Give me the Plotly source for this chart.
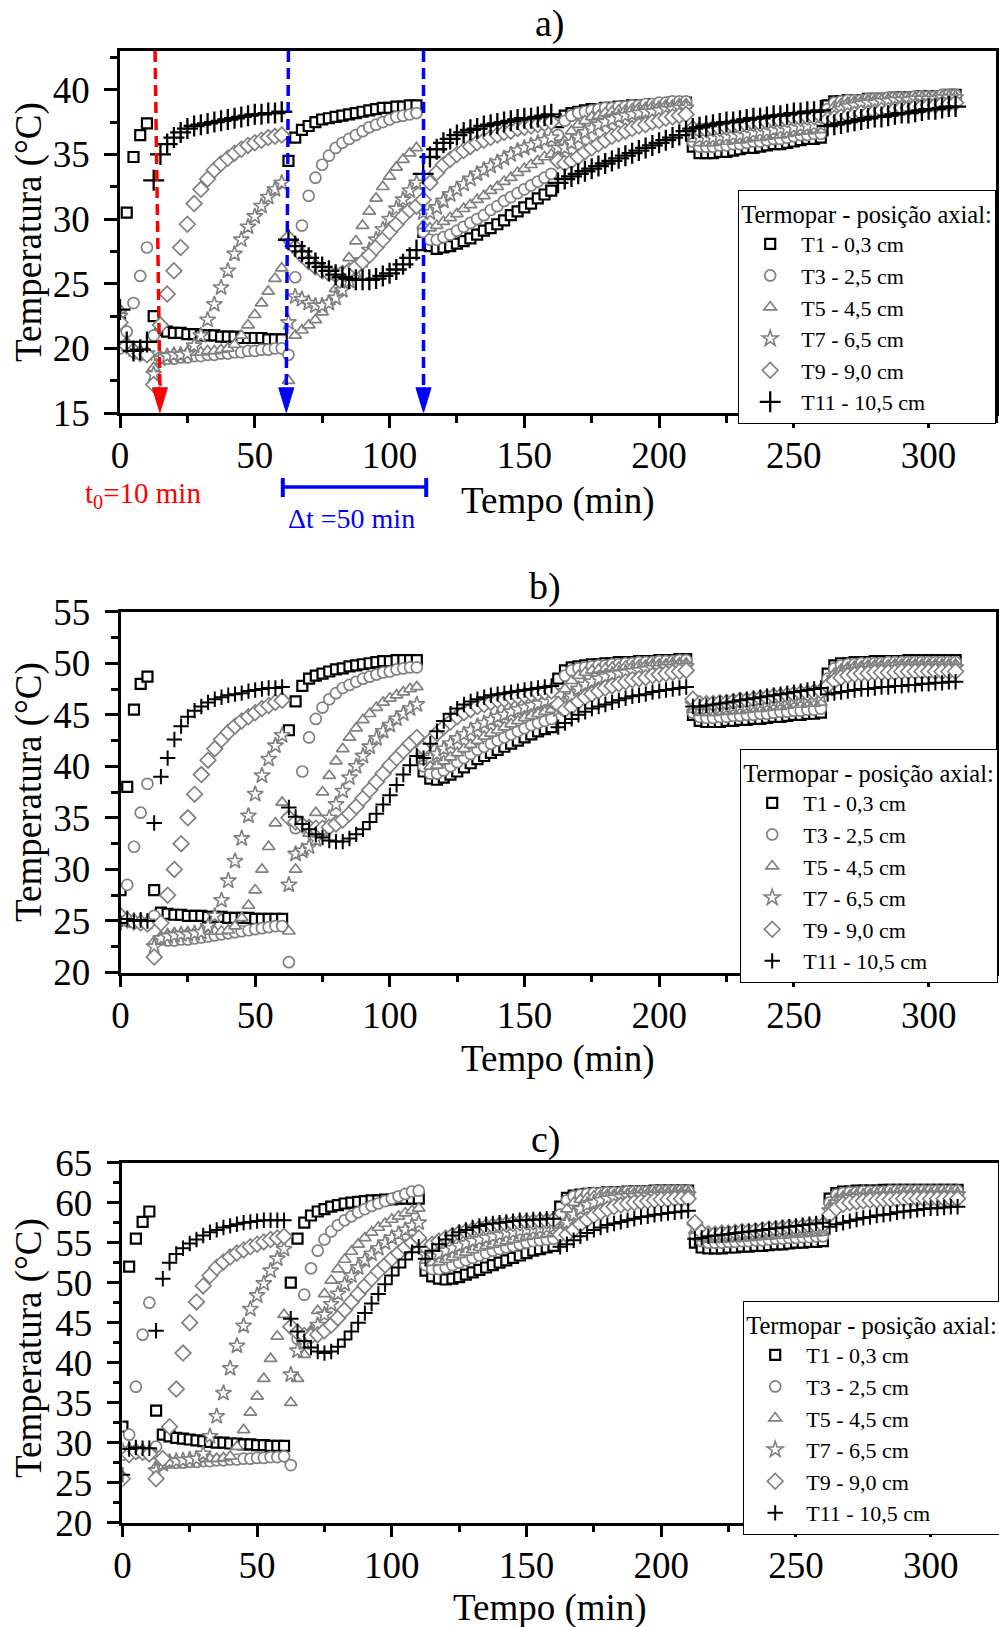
import plotly.graph_objects as go

FONT = "Liberation Serif"

# sampling times (min)
TIME = [0,2.5,5,7.5,10,12.5,15,17.5,20,22.5,25,27.5,30,32.5,35,37.5,40,42.5,45,47.5,
        50,52.5,55,57.5,60,62.5,65,67.5,70,72.5,75,77.5,80,82.5,85,87.5,90,92.5,95,97.5,
        100,102.5,105,107.5,110,112.5,115,117.5,120,122.5,125,127.5,130,132.5,135,137.5,140,142.5,145,147.5,
        150,152.5,155,157.5,160,162.5,165,167.5,170,172.5,175,177.5,180,182.5,185,187.5,190,192.5,195,197.5,
        200,202.5,205,207.5,210,212.5,215,217.5,220,222.5,225,227.5,230,232.5,235,237.5,240,242.5,245,247.5,
        250,252.5,255,257.5,260,262.5,265,267.5,270,272.5,275,277.5,280,282.5,285,287.5,290,292.5,295,297.5,
        300,302.5,305,307.5,310]

LABELS = ["T1 - 0,3 cm", "T3 - 2,5 cm", "T5 - 4,5 cm", "T7 - 6,5 cm", "T9 - 9,0 cm", "T11 - 10,5 cm"]
LEGEND_TITLE = "Termopar - posição axial:"

# ---------------- panel a ----------------
a_T1 = [22.0,30.5,34.8,36.5,
 37.4,22.5,21.4,21.3,21.2,21.2,21.1,21.1,21.0,21.0,21.0,20.9,20.9,20.9,20.8,20.8,20.8,20.8,20.7,20.7,
 20.7,34.5,36.3,36.9,37.2,37.5,37.7,37.8,37.9,38.0,38.1,38.2,38.3,38.4,38.5,38.6,38.6,38.7,38.7,38.8,
 38.8,29.0,27.9,27.7,27.8,27.9,28.1,28.3,28.5,28.8,29.1,29.3,29.6,29.9,30.3,30.6,30.9,31.2,31.6,31.9,
 32.2,37.5,38.0,38.2,38.3,38.4,38.5,38.5,38.6,38.6,38.7,38.7,38.8,38.8,38.8,38.9,38.9,38.9,39.0,39.0,
 39.0,35.6,35.1,35.1,35.1,35.2,35.2,35.3,35.4,35.5,35.5,35.6,35.7,35.8,35.8,35.9,36.0,36.1,36.2,36.2,
 36.3,38.8,39.1,39.1,39.2,39.2,39.2,39.3,39.3,39.3,39.3,39.4,39.4,39.4,39.4,39.5,39.5,39.5,39.5,39.6,39.6]
a_T3 = [20.0,21.3,23.5,25.6,
 27.8,21.0,19.3,19.2,19.2,19.3,19.3,19.4,19.4,19.5,19.5,19.6,19.6,19.7,19.7,19.8,19.8,19.9,19.9,20.0,
 20.0,19.5,25.5,29.5,31.8,33.2,34.2,34.9,35.5,35.9,36.2,36.5,36.8,37.1,37.3,37.5,37.7,37.9,38.0,38.1,
 38.2,29.0,28.4,28.4,28.6,28.8,29.1,29.4,29.7,30.0,30.3,30.7,31.0,31.4,31.7,32.0,32.3,32.6,32.9,33.2,
 33.5,36.5,37.6,38.0,38.2,38.3,38.4,38.5,38.6,38.6,38.7,38.7,38.8,38.8,38.9,38.9,39.0,39.0,39.1,39.1,
 39.1,36.0,35.6,35.6,35.6,35.7,35.7,35.8,35.8,35.9,36.0,36.0,36.1,36.2,36.2,36.3,36.4,36.5,36.5,36.6,
 36.6,38.5,39.0,39.1,39.2,39.2,39.2,39.3,39.3,39.3,39.4,39.4,39.4,39.4,39.5,39.5,39.5,39.5,39.6,39.6,39.6]
a_T5 = [23.0,20.5,20.0,19.8,
 19.7,18.5,19.3,19.5,19.6,19.6,19.7,19.7,19.7,19.8,19.8,19.9,20.0,20.3,21.0,21.8,22.6,23.5,24.4,25.4,
 26.2,17.5,21.0,21.4,21.8,22.2,22.8,23.6,24.6,25.8,27.0,28.3,29.5,30.6,31.6,32.5,33.3,34.0,34.6,35.1,
 35.5,29.5,29.3,29.5,29.8,30.1,30.4,30.8,31.1,31.5,31.8,32.2,32.5,32.9,33.2,33.6,33.9,34.2,34.5,34.8,
 35.0,35.0,36.0,36.8,37.3,37.6,37.9,38.0,38.2,38.3,38.4,38.4,38.5,38.6,38.6,38.7,38.7,38.8,38.8,38.9,
 38.9,36.2,35.9,35.9,35.9,36.0,36.0,36.1,36.1,36.2,36.3,36.3,36.4,36.5,36.5,36.6,36.7,36.8,36.8,36.9,
 36.9,38.0,38.7,38.9,39.0,39.1,39.1,39.2,39.2,39.2,39.3,39.3,39.3,39.3,39.4,39.4,39.4,39.4,39.5,39.5,39.5]
a_T7 = [22.5,20.3,19.9,19.7,
 19.6,18.0,19.2,19.4,19.5,19.5,19.6,20.2,21.0,22.2,23.4,24.7,26.0,27.3,28.4,29.4,30.2,31.0,31.7,32.3,
 32.8,22.0,24.0,23.8,23.5,23.3,23.3,23.5,23.9,24.5,25.2,26.0,26.8,27.6,28.4,29.2,30.0,30.8,31.5,32.2,
 32.8,30.5,30.5,30.9,31.4,31.9,32.3,32.7,33.1,33.5,33.8,34.1,34.4,34.7,35.0,35.3,35.5,35.7,35.9,36.1,
 36.3,35.5,35.5,35.9,36.3,36.7,37.0,37.3,37.5,37.7,37.9,38.0,38.1,38.2,38.3,38.3,38.4,38.5,38.5,38.6,
 38.6,36.6,36.3,36.3,36.3,36.4,36.4,36.5,36.5,36.6,36.7,36.8,36.8,36.9,37.0,37.0,37.1,37.2,37.2,37.3,
 37.3,37.9,38.3,38.5,38.7,38.8,38.9,39.0,39.0,39.1,39.1,39.2,39.2,39.2,39.3,39.3,39.3,39.3,39.4,39.4,39.4]
a_T9 = [22.0,20.2,19.8,19.6,
 19.5,17.2,21.8,24.2,26.0,27.8,29.6,31.2,32.3,33.1,33.8,34.3,34.7,35.1,35.4,35.7,35.9,36.1,36.3,36.4,
 36.5,28.5,27.8,27.2,26.7,26.3,26.0,25.8,25.7,25.8,26.0,26.3,26.7,27.2,27.8,28.4,29.0,29.6,30.2,30.7,
 31.0,31.5,32.8,33.6,34.2,34.6,35.0,35.3,35.6,35.9,36.1,36.3,36.5,36.7,36.8,37.0,37.1,37.2,37.3,37.4,
 37.5,34.5,34.3,34.5,34.8,35.2,35.5,35.8,36.1,36.4,36.6,36.8,37.0,37.2,37.3,37.5,37.6,37.8,37.9,38.0,
 38.1,37.0,36.9,36.9,37.0,37.0,37.1,37.2,37.2,37.3,37.4,37.4,37.5,37.6,37.6,37.7,37.8,37.8,37.9,37.9,
 38.0,37.7,37.8,37.9,38.0,38.1,38.2,38.2,38.3,38.4,38.4,38.5,38.6,38.6,38.7,38.7,38.8,38.8,38.9,38.9,39.0]
a_T11 = [23.0,20.5,19.8,19.9,
 20.5,33.0,35.0,35.8,36.3,36.7,37.0,37.2,37.3,37.4,37.5,37.6,37.7,37.8,37.9,38.0,38.1,38.1,38.2,38.2,
 38.3,28.4,27.9,27.5,27.0,26.6,26.3,26.0,25.7,25.5,25.4,25.3,25.3,25.3,25.4,25.6,25.8,26.1,26.5,27.0,
 27.6,33.5,34.8,35.4,35.9,36.2,36.5,36.7,36.9,37.0,37.2,37.3,37.4,37.5,37.6,37.7,37.8,37.8,37.9,38.0,
 38.1,32.8,33.1,33.3,33.5,33.7,33.9,34.1,34.3,34.5,34.7,34.9,35.1,35.3,35.5,35.7,35.9,36.1,36.3,36.5,
 36.8,37.0,37.1,37.2,37.3,37.4,37.5,37.5,37.6,37.7,37.8,37.8,37.9,38.0,38.0,38.1,38.2,38.2,38.3,38.3,
 38.4,37.2,37.3,37.4,37.5,37.6,37.7,37.8,37.9,37.9,38.0,38.1,38.2,38.2,38.3,38.4,38.5,38.5,38.6,38.7,38.7]

# ---------------- panel b ----------------
b_T1 = [28.0,38.0,45.5,48.0,
 48.7,28.0,25.8,25.7,25.6,25.6,25.5,25.5,25.5,25.4,25.4,25.4,25.3,25.3,25.3,25.3,25.2,25.2,25.2,25.2,
 25.2,43.5,46.3,47.8,48.5,48.8,49.0,49.2,49.4,49.5,49.7,49.8,49.9,50.0,50.1,50.2,50.2,50.3,50.3,50.3,
 50.3,39.5,38.8,38.7,38.9,39.2,39.5,39.9,40.3,40.7,41.0,41.3,41.6,41.9,42.2,42.5,42.8,43.1,43.4,43.6,
 43.8,48.5,49.3,49.6,49.7,49.8,49.9,49.9,50.0,50.0,50.1,50.1,50.1,50.2,50.2,50.2,50.3,50.3,50.3,50.4,
 50.4,45.0,44.4,44.3,44.3,44.3,44.4,44.4,44.5,44.5,44.6,44.6,44.7,44.8,44.8,44.9,45.0,45.0,45.1,45.1,
 45.2,49.0,49.8,50.0,50.0,50.1,50.1,50.1,50.2,50.2,50.2,50.2,50.2,50.3,50.3,50.3,50.3,50.3,50.3,50.3,50.3]
b_T3 = [25.0,28.5,32.2,35.5,
 38.3,25.5,23.2,23.1,23.1,23.2,23.2,23.3,23.4,23.5,23.6,23.7,23.8,23.9,24.0,24.1,24.2,24.3,24.4,24.5,
 24.5,21.0,34.0,39.5,42.8,44.6,45.7,46.5,47.1,47.6,47.9,48.2,48.5,48.7,48.9,49.1,49.2,49.4,49.5,49.6,
 49.6,40.0,39.3,39.3,39.6,40.0,40.4,40.8,41.2,41.6,41.9,42.2,42.5,42.8,43.1,43.4,43.7,44.0,44.2,44.4,
 44.6,47.0,48.8,49.3,49.5,49.6,49.7,49.8,49.8,49.9,49.9,50.0,50.0,50.1,50.1,50.1,50.2,50.2,50.2,50.3,
 50.3,45.2,44.8,44.7,44.7,44.8,44.8,44.9,44.9,45.0,45.0,45.1,45.1,45.2,45.3,45.3,45.4,45.4,45.5,45.5,
 45.6,48.5,49.5,49.8,49.9,49.9,50.0,50.0,50.0,50.0,50.1,50.1,50.1,50.1,50.1,50.1,50.1,50.1,50.1,50.1,50.1]
b_T5 = [25.5,25.2,25.0,25.0,
 24.9,23.0,23.5,23.7,23.8,23.8,23.9,23.9,24.0,24.0,24.0,24.0,24.1,24.5,25.3,26.5,28.0,30.0,32.2,34.5,
 36.5,24.0,30.0,31.7,33.5,35.5,37.5,39.1,40.5,41.7,42.8,43.7,44.5,45.1,45.7,46.2,46.6,46.9,47.2,47.5,
 47.7,40.5,40.0,40.1,40.5,40.9,41.3,41.7,42.1,42.5,42.9,43.2,43.5,43.8,44.1,44.4,44.7,44.9,45.1,45.3,
 45.5,46.0,47.5,48.3,48.8,49.1,49.3,49.4,49.5,49.6,49.6,49.7,49.7,49.8,49.8,49.9,49.9,49.9,50.0,50.0,
 50.0,45.5,45.2,45.2,45.2,45.3,45.3,45.4,45.4,45.5,45.6,45.6,45.7,45.8,45.8,45.9,46.0,46.0,46.1,46.1,
 46.2,48.0,49.0,49.4,49.6,49.7,49.7,49.8,49.8,49.8,49.8,49.9,49.9,49.9,49.9,49.9,49.9,49.9,49.9,49.9,49.9]
b_T7 = [25.5,25.2,25.0,25.0,
 24.9,22.5,23.3,23.5,23.6,23.7,23.7,23.8,23.9,24.5,25.5,27.0,28.9,30.8,33.0,35.2,37.3,39.1,40.7,42.0,
 43.0,28.5,31.5,31.8,32.2,32.9,33.8,35.0,36.3,37.6,38.9,40.0,41.0,41.9,42.7,43.4,44.0,44.6,45.1,45.6,
 46.0,41.0,40.8,41.2,41.7,42.2,42.7,43.1,43.5,43.9,44.2,44.5,44.8,45.0,45.3,45.5,45.7,45.9,46.1,46.3,
 46.5,45.5,46.0,46.8,47.5,47.9,48.2,48.5,48.7,48.9,49.0,49.1,49.2,49.3,49.4,49.5,49.5,49.6,49.6,49.7,
 49.7,46.0,45.6,45.6,45.6,45.7,45.7,45.8,45.9,45.9,46.0,46.1,46.2,46.3,46.3,46.4,46.5,46.6,46.6,46.7,
 46.8,47.5,48.5,49.0,49.2,49.3,49.4,49.4,49.5,49.5,49.5,49.5,49.6,49.6,49.6,49.6,49.6,49.6,49.6,49.6,49.6]
b_T9 = [25.5,25.1,24.9,24.8,
 24.7,21.5,24.8,27.5,30.0,32.5,35.0,37.3,39.2,40.6,41.7,42.6,43.3,43.9,44.4,44.8,45.2,45.6,45.9,46.2,
 46.4,35.0,34.6,34.3,34.1,34.0,34.0,34.1,34.4,34.8,35.4,36.1,36.9,37.7,38.5,39.3,40.1,40.8,41.5,42.2,
 42.8,41.8,42.5,43.2,43.8,44.3,44.8,45.2,45.5,45.8,46.0,46.2,46.4,46.5,46.7,46.8,46.9,47.0,47.1,47.2,
 47.3,46.0,45.5,45.8,46.3,46.7,47.0,47.3,47.6,47.8,48.0,48.2,48.4,48.5,48.6,48.8,48.9,49.0,49.1,49.2,
 49.3,46.5,46.1,46.1,46.1,46.2,46.2,46.3,46.4,46.4,46.5,46.6,46.7,46.8,46.8,46.9,47.0,47.1,47.1,47.2,
 47.3,47.8,48.3,48.6,48.8,48.9,49.0,49.0,49.1,49.1,49.1,49.1,49.2,49.2,49.2,49.2,49.2,49.2,49.2,49.2,49.2]
b_T11 = [24.8,25.2,25.0,25.1,
 25.0,34.5,39.0,40.8,42.6,43.9,44.8,45.4,45.8,46.2,46.5,46.7,46.9,47.0,47.1,47.3,47.4,47.5,47.6,47.6,
 47.7,36.0,35.1,34.4,33.9,33.4,33.1,32.8,32.7,32.7,33.0,33.4,33.9,34.6,35.4,36.3,37.2,38.2,39.2,40.1,
 41.0,40.8,42.2,43.4,44.4,45.1,45.6,46.0,46.3,46.5,46.7,46.9,47.0,47.1,47.2,47.3,47.4,47.5,47.6,47.7,
 47.8,43.8,44.2,44.6,45.0,45.3,45.6,45.8,46.0,46.2,46.4,46.6,46.8,46.9,47.0,47.2,47.3,47.4,47.5,47.6,
 47.7,45.8,45.8,45.9,46.0,46.1,46.2,46.3,46.4,46.5,46.6,46.7,46.8,46.9,47.0,47.1,47.2,47.3,47.4,47.5,
 47.6,47.0,47.1,47.2,47.3,47.4,47.5,47.5,47.6,47.7,47.7,47.8,47.8,47.9,47.9,48.0,48.0,48.1,48.1,48.2,48.2]

# ---------------- panel c ----------------
c_T1 = [32.0,52.0,55.5,57.6,
 58.9,34.0,31.0,30.8,30.6,30.5,30.4,30.3,30.2,30.1,30.0,30.0,29.9,29.9,29.8,29.8,29.7,29.7,29.6,29.6,
 29.6,50.0,55.5,57.5,58.4,58.9,59.2,59.5,59.7,59.9,60.0,60.1,60.2,60.3,60.3,60.4,60.4,60.5,60.5,60.5,
 60.5,51.5,50.8,50.5,50.4,50.5,50.7,51.0,51.3,51.6,51.9,52.2,52.5,52.8,53.1,53.4,53.7,54.0,54.2,54.4,
 54.6,59.5,60.6,60.9,61.0,61.1,61.2,61.2,61.3,61.3,61.3,61.4,61.4,61.4,61.4,61.5,61.5,61.5,61.5,61.5,
 61.5,55.0,54.4,54.3,54.3,54.3,54.4,54.4,54.5,54.5,54.6,54.6,54.7,54.8,54.8,54.9,55.0,55.0,55.1,55.1,
 55.2,60.5,61.2,61.4,61.4,61.5,61.5,61.5,61.5,61.6,61.6,61.6,61.6,61.6,61.6,61.6,61.6,61.6,61.6,61.6,61.6]
c_T3 = [28.5,31.0,37.0,43.5,
 47.5,29.5,27.6,27.5,27.5,27.5,27.6,27.6,27.7,27.7,27.8,27.8,27.9,27.9,28.0,28.0,28.1,28.1,28.2,28.2,
 28.3,27.2,43.0,48.5,51.8,54.0,55.4,56.4,57.2,57.8,58.3,58.8,59.2,59.6,59.9,60.2,60.5,60.8,61.1,61.4,
 61.5,52.2,51.7,51.7,51.9,52.2,52.5,52.8,53.1,53.4,53.7,54.0,54.2,54.4,54.6,54.8,55.0,55.2,55.3,55.4,
 55.5,58.5,60.3,60.8,61.0,61.1,61.2,61.2,61.3,61.3,61.3,61.4,61.4,61.4,61.4,61.5,61.5,61.5,61.5,61.5,
 61.5,56.0,55.2,55.0,55.0,55.0,55.1,55.1,55.2,55.2,55.3,55.3,55.4,55.5,55.5,55.6,55.6,55.7,55.7,55.8,
 55.8,60.0,61.0,61.2,61.3,61.3,61.4,61.4,61.4,61.4,61.5,61.5,61.5,61.5,61.5,61.5,61.5,61.5,61.5,61.5,61.5]
c_T5 = [29.0,29.2,29.1,29.0,
 28.9,27.0,27.5,27.7,27.8,27.8,27.9,27.9,28.0,28.0,28.0,28.1,28.3,29.5,31.6,33.8,35.8,38.0,40.5,43.3,
 46.0,35.0,38.0,41.0,44.0,46.5,48.6,50.3,51.7,52.9,53.9,54.8,55.6,56.3,56.9,57.4,57.9,58.3,58.7,59.0,
 59.3,52.8,52.5,52.6,52.9,53.2,53.5,53.8,54.1,54.4,54.6,54.8,55.0,55.2,55.4,55.6,55.8,55.9,56.0,56.1,
 56.2,57.5,59.2,60.0,60.4,60.6,60.8,60.9,61.0,61.0,61.1,61.1,61.2,61.2,61.2,61.3,61.3,61.3,61.3,61.3,
 61.3,56.5,55.6,55.4,55.4,55.4,55.5,55.5,55.6,55.6,55.7,55.8,55.8,55.9,55.9,56.0,56.1,56.1,56.2,56.2,
 56.3,59.5,60.5,60.8,60.9,61.0,61.0,61.1,61.1,61.1,61.1,61.2,61.2,61.2,61.2,61.2,61.2,61.2,61.2,61.2,61.2]
c_T7 = [29.0,29.1,29.0,28.9,
 28.8,26.5,27.3,27.6,27.7,27.8,27.9,28.0,28.6,30.8,33.3,36.2,39.3,42.1,44.6,46.7,48.4,49.9,51.5,53.0,
 54.2,38.5,41.5,42.5,43.5,44.7,46.0,47.3,48.6,49.8,50.9,51.9,52.8,53.6,54.3,55.0,55.6,56.1,56.6,57.1,
 57.5,53.5,53.4,53.6,54.0,54.3,54.6,54.9,55.2,55.4,55.6,55.8,56.0,56.2,56.3,56.5,56.6,56.7,56.8,56.9,
 57.0,56.5,57.5,58.5,59.2,59.7,60.0,60.3,60.5,60.6,60.7,60.8,60.8,60.9,60.9,61.0,61.0,61.0,61.0,61.0,
 61.0,57.0,56.0,55.8,55.8,55.8,55.9,55.9,56.0,56.1,56.1,56.2,56.3,56.3,56.4,56.5,56.5,56.6,56.7,56.7,
 56.8,59.0,60.0,60.4,60.6,60.7,60.8,60.8,60.9,60.9,60.9,61.0,61.0,61.0,61.0,61.0,61.0,61.0,61.0,61.0,61.0]
c_T9 = [25.5,28.5,28.9,28.8,
 28.6,25.5,28.0,32.0,36.7,41.2,45.0,47.6,49.6,50.9,51.9,52.6,53.2,53.7,54.1,54.5,54.8,55.1,55.4,55.6,
 55.8,44.5,43.8,43.4,43.3,43.5,44.0,44.7,45.6,46.6,47.6,48.6,49.6,50.5,51.4,52.2,53.0,53.7,54.4,55.0,
 55.6,54.5,54.8,55.2,55.6,55.9,56.2,56.4,56.6,56.8,57.0,57.1,57.2,57.3,57.4,57.5,57.6,57.6,57.7,57.7,
 57.8,56.0,56.0,56.6,57.3,57.9,58.4,58.8,59.2,59.5,59.7,59.9,60.0,60.1,60.2,60.3,60.4,60.4,60.5,60.5,
 60.5,57.5,56.3,56.1,56.1,56.2,56.2,56.3,56.4,56.4,56.5,56.6,56.7,56.7,56.8,56.9,56.9,57.0,57.1,57.1,
 57.2,58.5,59.3,59.8,60.0,60.1,60.2,60.3,60.3,60.4,60.4,60.4,60.5,60.5,60.5,60.5,60.5,60.5,60.5,60.5,60.5]
c_T11 = [26.0,29.2,29.4,29.3,
 29.3,44.0,50.5,52.5,53.6,54.3,54.9,55.4,55.9,56.3,56.6,56.9,57.1,57.3,57.5,57.6,57.7,57.8,57.8,57.8,
 57.8,45.5,43.9,42.7,41.9,41.4,41.2,41.4,42.0,42.9,43.9,45.0,46.2,47.4,48.6,49.8,50.9,51.9,52.9,53.8,
 54.5,53.0,54.0,54.8,55.4,55.9,56.3,56.6,56.9,57.1,57.3,57.4,57.5,57.6,57.7,57.8,57.8,57.9,57.9,58.0,
 58.0,54.5,54.8,55.3,55.8,56.2,56.6,56.9,57.2,57.4,57.6,57.8,58.0,58.2,58.3,58.5,58.6,58.7,58.8,58.9,
 59.0,55.5,55.6,55.8,55.9,56.0,56.1,56.2,56.3,56.4,56.5,56.6,56.7,56.8,56.9,57.0,57.1,57.2,57.3,57.4,
 57.5,57.0,57.3,57.5,57.7,57.9,58.1,58.2,58.4,58.5,58.6,58.8,58.9,59.0,59.1,59.2,59.3,59.3,59.4,59.5,59.5]

PANELS = [
    dict(series=[a_T1, a_T3, a_T5, a_T7, a_T9, a_T11], xa="x", ya="y", leg="legend", plus=15, plusw=2.3),
    dict(series=[b_T1, b_T3, b_T5, b_T7, b_T9, b_T11], xa="x2", ya="y2", leg="legend2", plus=11, plusw=2.0),
    dict(series=[c_T1, c_T3, c_T5, c_T7, c_T9, c_T11], xa="x3", ya="y3", leg="legend3", plus=11, plusw=2.0),
]

BLACK = "black"
GREY = "#808080"
# symbol, size, edge colour, edge width
STYLES = [("square", 10, BLACK, 2.2), ("circle", 11, GREY, 1.7), ("triangle-up", 11, GREY, 1.7),
          ("star", 12, GREY, 1.6), ("diamond", 12, GREY, 1.7), ("cross-thin", None, BLACK, None)]

fig = go.Figure()
for p in PANELS:
    for vals, lab, (sym, size, col, lw) in zip(p["series"], LABELS, STYLES):
        assert len(vals) == len(TIME), (lab, len(vals))
        if sym == "cross-thin":
            mk = dict(symbol=sym, size=p["plus"], color=col, line=dict(color=col, width=p["plusw"]))
        else:
            mk = dict(symbol=sym, size=size, color="white", line=dict(color=col, width=lw))
        fig.add_trace(go.Scatter(x=TIME, y=vals, mode="markers", name=lab, marker=mk,
                                 xaxis=p["xa"], yaxis=p["ya"], legend=p["leg"], showlegend=True))

W, H = 999, 1627
def px_x(v): return v / W
def px_y(v): return 1 - v / H

TICKFONT = dict(family=FONT, size=37, color="black")

def xax(left, right, anchor):
    return dict(domain=[px_x(left), px_x(right)], anchor=anchor, range=[0, 325], automargin=False,
                tickmode="linear", tick0=0, dtick=50, ticks="outside", ticklen=12, tickwidth=2.5,
                tickcolor="black",
                minor=dict(dtick=25, tick0=0, ticks="outside", ticklen=7, tickwidth=2.5, tickcolor="black"),
                showline=True, linewidth=2.5, linecolor="black", mirror=True,
                showgrid=False, zeroline=False, tickfont=TICKFONT, ticklabelstandoff=-4)

def yax(top, bottom, anchor, rng):
    return dict(domain=[px_y(bottom), px_y(top)], anchor=anchor, range=rng, automargin=False,
                tickmode="linear", tick0=rng[0], dtick=5, ticks="outside", ticklen=13, tickwidth=2.5,
                tickcolor="black",
                minor=dict(dtick=2.5, tick0=rng[0], ticks="outside", ticklen=7, tickwidth=2.5, tickcolor="black"),
                showline=True, linewidth=2.5, linecolor="black", mirror=True,
                showgrid=False, zeroline=False, tickfont=TICKFONT, ticklabelstandoff=7)

def legend_cfg(left, top):
    return dict(x=px_x(left), y=px_y(top), xanchor="left", yanchor="top",
                bgcolor="white", bordercolor="black", borderwidth=1.2,
                font=dict(family=FONT, size=22, color="black"),
                title=dict(text=LEGEND_TITLE, font=dict(family=FONT, size=24.5, color="black")),
                itemsizing="trace", itemwidth=52, tracegroupgap=0)

fig.update_layout(
    width=W, height=H, margin=dict(l=0, r=0, t=0, b=0, autoexpand=False),
    paper_bgcolor="white", plot_bgcolor="white",
    font=dict(family=FONT, color="black"),
    xaxis=xax(120, 996, "y"), yaxis=yax(51, 413, "x", [15, 43]),
    xaxis2=xax(120.5, 996, "y2"), yaxis2=yax(611.7, 972.5, "x2", [20, 55]),
    xaxis3=xax(122.4, 998, "y3"), yaxis3=yax(1162.7, 1522.7, "x3", [20, 65]),
    legend=legend_cfg(738, 190), legend2=legend_cfg(740, 749), legend3=legend_cfg(743, 1301),
)

# ---- text ----
ann = []
def txt(text, x, y, size, color="black", angle=0):
    ann.append(dict(text=text, x=px_x(x), y=px_y(y), xref="paper", yref="paper",
                    showarrow=False, xanchor="center", yanchor="middle", textangle=angle,
                    font=dict(family=FONT, size=size, color=color)))

for lab, xx, yy in [("a)", 550, 23), ("b)", 545, 586), ("c)", 546, 1139)]:
    txt(lab, xx, yy, 38)
for yy, xx in [(501, 558), (1059, 558), (1608, 550)]:
    txt("Tempo (min)", xx, yy, 37)
for yy in [232, 792, 1348]:
    txt("Temperatura (°C)", 29, yy, 37, angle=-90)
txt("t<sub>0</sub>=10 min", 143, 495, 29, color="#ff0000")
txt("Δt =50 min", 351, 518, 28, color="#0000ff")
fig.update_layout(annotations=ann)

# ---- switching markers in panel a ----
RED = "#ff0000"
BLUE = "#0000ff"
ARROWS = [(13.0, 14.8, RED), (62.5, 61.7, BLUE), (112.6, 112.6, BLUE)]   # (x at top, x at tip, colour)
HEAD_H = 1.95     # degC
HEAD_HALF = 2.8   # min
shapes = []
for xt, xb, col in ARROWS:
    shapes.append(dict(type="line", xref="x", yref="y", x0=xt, y0=43, x1=xb, y1=15 + HEAD_H,
                       line=dict(color=col, width=3.5, dash="11px,6px"), layer="above"))
    shapes.append(dict(type="path", xref="x", yref="y",
                       path=f"M {xb-HEAD_HALF},{15+HEAD_H} L {xb+HEAD_HALF},{15+HEAD_H} L {xb},15.05 Z",
                       fillcolor=col, line=dict(color=col, width=1), layer="above"))
# bracket for delta t
BR_X0, BR_X1 = 60.4, 113.6
BR_Y, BR_CAP_T, BR_CAP_B = 487, 478, 497
shapes.append(dict(type="line", xref="x", yref="paper", x0=BR_X0, x1=BR_X1, y0=px_y(BR_Y), y1=px_y(BR_Y),
                   line=dict(color=BLUE, width=3.5)))
for xx in (BR_X0, BR_X1):
    shapes.append(dict(type="line", xref="x", yref="paper", x0=xx, x1=xx, y0=px_y(BR_CAP_T), y1=px_y(BR_CAP_B),
                       line=dict(color=BLUE, width=4)))
fig.update_layout(shapes=shapes)

fig.write_html("out.html")
